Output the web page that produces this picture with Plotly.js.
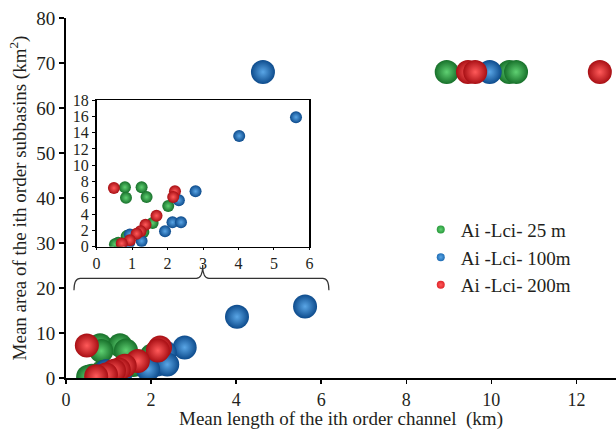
<!DOCTYPE html>
<html>
<head>
<meta charset="utf-8">
<script src="https://cdn.plot.ly/plotly-3.0.1.min.js"></script>
<style>html,body{margin:0;padding:0;background:#fff;}#chart{width:616px;height:430px;}</style>
</head>
<body>
<div id="chart"></div>
<script>
// Series values (x: mean channel length km, y: mean subbasin area km²)
const seriesNames = ["Ai -Lci- 25 m", "Ai -Lci- 100m", "Ai -Lci- 200m"];
const greenX = [0.80, 1.27, 0.83, 1.41, 2.02, 1.58, 1.32, 0.85, 0.61, 0.52, 8.95, 10.42, 10.58];
const greenY = [7.3, 7.3, 6.0, 6.1, 5.0, 2.9, 1.8, 1.3, 0.5, 0.3, 68, 68, 68];
const blueX = [5.62, 4.02, 2.79, 2.32, 2.14, 2.38, 1.93, 1.27, 0.94, 0.92, 4.63, 9.96];
const blueY = [15.9, 13.6, 6.8, 5.7, 3.0, 3.0, 1.9, 0.7, 1.5, 0.5, 68, 68];
const redX = [0.49, 2.21, 2.16, 1.69, 1.38, 1.24, 1.13, 0.94, 0.71, 9.45, 9.62, 12.55];
const redY = [7.2, 6.8, 6.1, 3.8, 2.7, 1.9, 1.6, 0.8, 0.4, 68, 68, 68];

const mainXTicks = [0, 2, 4, 6, 8, 10, 12];
const mainYTicks = [0, 10, 20, 30, 40, 50, 60, 70, 80];
const insetXTicks = [0, 1, 2, 3, 4, 5, 6];
const insetYTicks = [0, 2, 4, 6, 8, 10, 12, 14, 16, 18];

const serif = "Liberation Serif, DejaVu Serif, serif";
const textColor = "#231f20";
const series = [
  {x: greenX, y: greenY, edge: "#17702a", center: "#5fd072", solid: "#2a9a3c"},
  {x: blueX, y: blueY, edge: "#0d4b8c", center: "#5aa6e6", solid: "#1f6db5"},
  {x: redX, y: redY, edge: "#a80f14", center: "#ff5a5a", solid: "#e0262b"}
];

const traces = [];
series.forEach((s, i) => {
  traces.push({
    type: "scatter", mode: "markers", x: s.x, y: s.y, xaxis: "x", yaxis: "y",
    showlegend: false, hoverinfo: "skip",
    marker: {size: 24, color: s.edge, gradient: {type: "radial", color: s.center}, line: {width: 0}}
  });
});
series.forEach((s, i) => {
  traces.push({
    type: "scatter", mode: "markers", x: s.x, y: s.y, xaxis: "x2", yaxis: "y2",
    showlegend: false, hoverinfo: "skip",
    marker: {size: 12, color: s.edge, gradient: {type: "radial", color: s.center}, line: {width: 0}}
  });
});
series.forEach((s, i) => {
  traces.push({
    type: "scatter", mode: "markers", x: [null], y: [null], xaxis: "x", yaxis: "y",
    name: seriesNames[i], showlegend: true,
    marker: {size: 8, color: s.solid, gradient: {type: "radial", color: s.center}, line: {width: 0}}
  });
});

const axisCommon = {
  showgrid: false, zeroline: false, showline: true, linecolor: "#000",
  ticks: "outside", tickcolor: "#000", tickfont: {family: serif, size: 19, color: textColor}
};

const layout = {
  width: 616, height: 430,
  margin: {l: 66, r: 0, t: 18, b: 52},
  paper_bgcolor: "#fff", plot_bgcolor: "#fff",
  font: {family: serif, color: textColor},
  showlegend: true,
  legend: {x: 0.645, y: 0.465, xanchor: "left", yanchor: "top", bgcolor: "rgba(0,0,0,0)",
    font: {family: serif, size: 19, color: textColor}, tracegroupgap: 0},
  xaxis: Object.assign({}, axisCommon, {
    domain: [0, 1], range: [0, 12.93], tickvals: mainXTicks, ticklen: 4, linewidth: 2, tickwidth: 1.5,
    tickfont: {family: serif, size: 18, color: textColor},
    title: {text: "Mean length of the ith order channel  (km)", font: {family: serif, size: 19, color: textColor}, standoff: 8},
    automargin: false
  }),
  yaxis: Object.assign({}, axisCommon, {
    domain: [0, 1], range: [0, 80], tickvals: mainYTicks, ticklen: 5, linewidth: 2, tickwidth: 1.5,
    title: {text: "Mean area of the ith order subbasins (km<sup>2</sup>)", font: {family: serif, size: 19, color: textColor}, standoff: 5},
    automargin: false
  }),
  xaxis2: Object.assign({}, axisCommon, {
    domain: [0.0555, 0.4427], range: [0, 6], tickvals: insetXTicks, ticklen: 2, linewidth: 1.5, tickwidth: 1,
    mirror: true, anchor: "y2", tickfont: {family: serif, size: 16, color: textColor}
  }),
  yaxis2: Object.assign({}, axisCommon, {
    domain: [0.3647, 0.772], range: [0, 18], tickvals: insetYTicks, ticklen: 3, linewidth: 1.5, tickwidth: 1,
    mirror: true, anchor: "x2", tickfont: {family: serif, size: 16, color: textColor}
  }),
  shapes: [{
    type: "path", xref: "paper", yref: "paper",
    path: "M 0.0145 0.244 Q 0.0145 0.277 0.026 0.277 L 0.237 0.277 Q 0.2485 0.277 0.2485 0.314 Q 0.2485 0.277 0.26 0.277 L 0.467 0.277 Q 0.478 0.277 0.478 0.244",
    line: {color: "#333", width: 1.2}
  }]
};

Plotly.newPlot("chart", traces, layout, {displayModeBar: false, staticPlot: true});
</script>
</body>
</html>
